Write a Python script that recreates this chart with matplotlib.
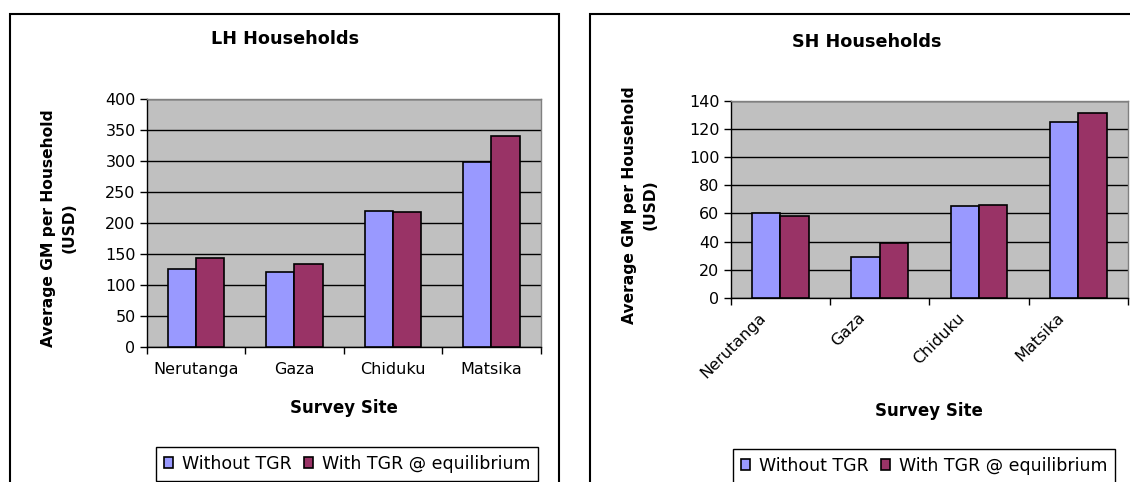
import numpy as np
import matplotlib
matplotlib.use("Agg")
import matplotlib.pyplot as plt
import matplotlib.transforms as mtransforms
from matplotlib.patches import Rectangle

plt.rcParams['font.family'] = ['DejaVu Sans']

# %% data

sites = ["Nerutanga", "Gaza", "Chiduku", "Matsika"]
series_names = ["Without TGR", "With TGR @ equilibrium"]

lh_without = [126, 120, 220, 298]
lh_with = [144, 134, 217, 340]

sh_without = [60, 29, 65, 125]
sh_with = [58, 39, 66, 131.5]

colors = ["#9999FF", "#993366"]

# %% figure setup (pixel based layout)

W, H = 1130, 482
fig = plt.figure(figsize=(W / 100, H / 100), dpi=100)


def px_axes(x0, y0, x1, y1):
    # pixel box (top-left origin) -> figure axes
    return fig.add_axes([x0 / W, 1 - y1 / H, (x1 - x0) / W, (y1 - y0) / H])


def px(x, y):
    return x / W, 1 - y / H


# chart frames
for (x0, y0, x1, y1) in [(9.5, 13.5, 559, 490), (590, 14, 1140, 490)]:
    fig.patches.append(Rectangle(px(x0, y1), (x1 - x0) / W, (y1 - y0) / H,
                                 transform=fig.transFigure, fill=False,
                                 edgecolor="black", linewidth=1.5))

# cut off heading above the charts
fig.text(296 / W, 1 + 4 / H, "y", fontsize=11, ha="center", va="baseline")


def draw_chart(ax, without, with_, ymax, step, title, title_xy, ylab_xy, rotate):
    x = np.arange(len(sites))
    w = 1 / 3.5
    ax.bar(x - w / 2, without, w, color=colors[0], edgecolor="black",
           linewidth=1.2, label=series_names[0], zorder=3)
    ax.bar(x + w / 2, with_, w, color=colors[1], edgecolor="black",
           linewidth=1.2, label=series_names[1], zorder=3)

    ax.set_facecolor("#C0C0C0")
    ax.set_xlim(-0.5, len(sites) - 0.5)
    ax.set_ylim(0, ymax)
    ax.set_yticks(np.arange(0, ymax + 1, step))
    ax.yaxis.grid(True, color="black", linewidth=1.0, zorder=1)
    ax.set_axisbelow(True)

    # ticks at category boundaries, labels at centres
    ax.set_xticks(np.arange(-0.5, len(sites)), labels=[""] * (len(sites) + 1))
    ax.set_xticks(x, minor=True)
    if rotate:
        ax.set_xticklabels(sites, minor=True, rotation=45, ha="right",
                           rotation_mode="anchor", fontsize=11.5)
        ax.tick_params(axis="x", which="minor", length=0, pad=9)
        shift = mtransforms.ScaledTranslation(-22 / 100, 0, fig.dpi_scale_trans)
        for lab in ax.get_xticklabels(minor=True):
            lab.set_transform(lab.get_transform() + shift)
    else:
        ax.set_xticklabels(sites, minor=True, fontsize=11.5)
        ax.tick_params(axis="x", which="minor", length=0, pad=11)
    ax.tick_params(axis="x", which="major", length=5, width=1, direction="out")
    ax.tick_params(axis="y", length=5, width=1, labelsize=11.5, pad=3)

    for s in ["top", "right"]:
        ax.spines[s].set_color("#808080")
        ax.spines[s].set_linewidth(1)
    for s in ["left", "bottom"]:
        ax.spines[s].set_color("black")
        ax.spines[s].set_linewidth(1)

    fig.text(*px(*ylab_xy), "Average GM per Household\n(USD)", fontsize=11.2,
             fontweight="bold", rotation=90, ha="center", va="center",
             multialignment="center", linespacing=1.5)
    fig.text(*px(*title_xy), title, fontsize=12.7, fontweight="bold",
             ha="center", va="center")


# %% LH households

ax1 = px_axes(146.7, 99.3, 540.7, 346.7)
draw_chart(ax1, lh_without, lh_with, 400, 50, "LH Households", (285, 39),
           (59, 228), False)
fig.text(*px(343.7, 408), "Survey Site", fontsize=12, fontweight="bold",
         ha="center", va="center")

# %% SH households

ax2 = px_axes(730.7, 101, 1128, 297.7)
draw_chart(ax2, sh_without, sh_with, 140, 20, "SH Households", (867, 42),
           (640, 205), True)
fig.text(*px(929, 411), "Survey Site", fontsize=12, fontweight="bold",
         ha="center", va="center")

# %% legends

for ax, (lx, ly) in [(ax1, (156, 447)), (ax2, (733, 449))]:
    leg = ax.legend(loc="upper left", bbox_to_anchor=px(lx, ly),
                    bbox_transform=fig.transFigure, ncol=2, fontsize=12.5,
                    frameon=True, fancybox=False, edgecolor="black",
                    framealpha=1, handlelength=0.55, handleheight=0.55,
                    handletextpad=0.5, columnspacing=0.7, borderpad=0.45,
                    borderaxespad=0)
    leg.get_frame().set_linewidth(1)

fig.savefig("out.png", dpi=100)
